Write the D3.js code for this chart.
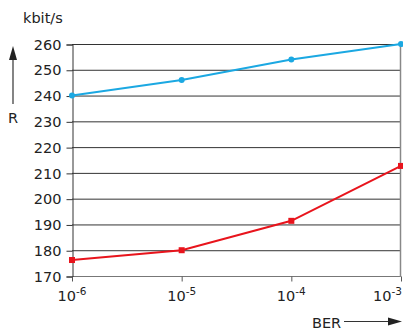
<!DOCTYPE html>
<html>
<head>
<meta charset="utf-8">
<script src="https://cdn.jsdelivr.net/npm/d3@7"></script>
<style>
body { margin: 0; background: #fff; }
text { font-family: "DejaVu Sans", sans-serif; fill: #222; }
</style>
</head>
<body>
<script>
var width = 403;
var height = 331;

var berValues = [1e-6, 1e-5, 1e-4, 1e-3];
var berExponents = ["-6", "-5", "-4", "-3"];
var blueRates = [240, 246, 254, 260];
var redRates = [176.2, 180, 191.4, 212.7];
var rateTicks = [170, 180, 190, 200, 210, 220, 230, 240, 250, 260];

var svg = d3.select("body").append("svg").attr("width", width).attr("height", height);

var x = d3.scaleLog().domain([1e-6, 1e-3]).range([72, 401]);
var y = d3.scaleLinear().domain([170, 260]).range([276, 44]);

// grid lines
svg.append("g").selectAll("line")
  .data(rateTicks)
  .enter().append("line")
  .attr("x1", x(1e-6)).attr("x2", x(1e-3))
  .attr("y1", function(d){ return y(d) + 0.5; })
  .attr("y2", function(d){ return y(d) + 0.5; })
  .attr("stroke", function(d){ return d == 170 ? "#777" : "#333"; })
  .attr("stroke-width", 1);

// right frame line
svg.append("line")
  .attr("x1", x(1e-3) - 0.5).attr("x2", x(1e-3) - 0.5)
  .attr("y1", y(260)).attr("y2", y(170) + 1)
  .attr("stroke", "#888").attr("stroke-width", 1.5);

// y axis
var yAxis = svg.append("g")
  .attr("transform", "translate(" + (x(1e-6) + 0.5) + ",0.5)")
  .call(d3.axisLeft(y).tickValues(rateTicks).tickSize(6).tickPadding(5).tickFormat(d3.format("d")));
yAxis.select(".domain").attr("stroke", "#333");
yAxis.selectAll(".tick line").attr("stroke", "#333");
yAxis.selectAll("text").style("font-size", "14.5px").attr("fill", "#222");

// x axis
var xAxis = svg.append("g")
  .attr("transform", "translate(0," + (y(170) + 0.5) + ")")
  .call(d3.axisBottom(x).tickValues(berValues).tickSize(5).tickFormat(""));
xAxis.select(".domain").remove();
xAxis.selectAll(".tick line").attr("stroke", "#555");

var last = berValues.length - 1;
var xl = svg.append("g").selectAll("text")
  .data(berValues)
  .enter().append("text")
  .attr("x", function(d, i){ return i == last ? width - 1 : x(d); })
  .attr("y", 301)
  .attr("text-anchor", function(d, i){ return i == last ? "end" : "middle"; })
  .style("font-size", "14.5px");
xl.append("tspan").text("10");
xl.append("tspan")
  .attr("dy", -6)
  .style("font-size", "10.5px")
  .text(function(d, i){ return berExponents[i]; });

// lines
var line = d3.line()
  .x(function(d, i){ return x(berValues[i]); })
  .y(function(d){ return y(d); });

svg.append("path").datum(blueRates)
  .attr("d", line).attr("fill", "none")
  .attr("stroke", "#1ba8e2").attr("stroke-width", 2);
svg.append("g").selectAll("circle")
  .data(blueRates).enter().append("circle")
  .attr("cx", function(d, i){ return x(berValues[i]); })
  .attr("cy", function(d){ return y(d); })
  .attr("r", 3).attr("fill", "#1ba8e2");

svg.append("path").datum(redRates)
  .attr("d", line).attr("fill", "none")
  .attr("stroke", "#e8141c").attr("stroke-width", 2);
svg.append("g").selectAll("rect")
  .data(redRates).enter().append("rect")
  .attr("x", function(d, i){ return x(berValues[i]) - 3; })
  .attr("y", function(d){ return y(d) - 3; })
  .attr("width", 6).attr("height", 6)
  .attr("fill", "#e8141c");

// axis titles
svg.append("text").attr("x", 23).attr("y", 23)
  .style("font-size", "14.5px").text("kbit/s");

svg.append("line")
  .attr("x1", 13).attr("x2", 13).attr("y1", 104).attr("y2", 58)
  .attr("stroke", "#333").attr("stroke-width", 1.2);
svg.append("path")
  .attr("d", "M13,46 L9,60 L17,60 Z").attr("fill", "#222");
svg.append("text").attr("x", 13).attr("y", 123)
  .attr("text-anchor", "middle")
  .style("font-size", "14.5px").text("R");

svg.append("text").attr("x", 312).attr("y", 328)
  .style("font-size", "14.5px").text("BER");
svg.append("line")
  .attr("x1", 344).attr("x2", 390).attr("y1", 321.5).attr("y2", 321.5)
  .attr("stroke", "#333").attr("stroke-width", 1.2);
svg.append("path")
  .attr("d", "M402,321.5 L388,317.5 L388,325.5 Z").attr("fill", "#222");
</script>
</body>
</html>
